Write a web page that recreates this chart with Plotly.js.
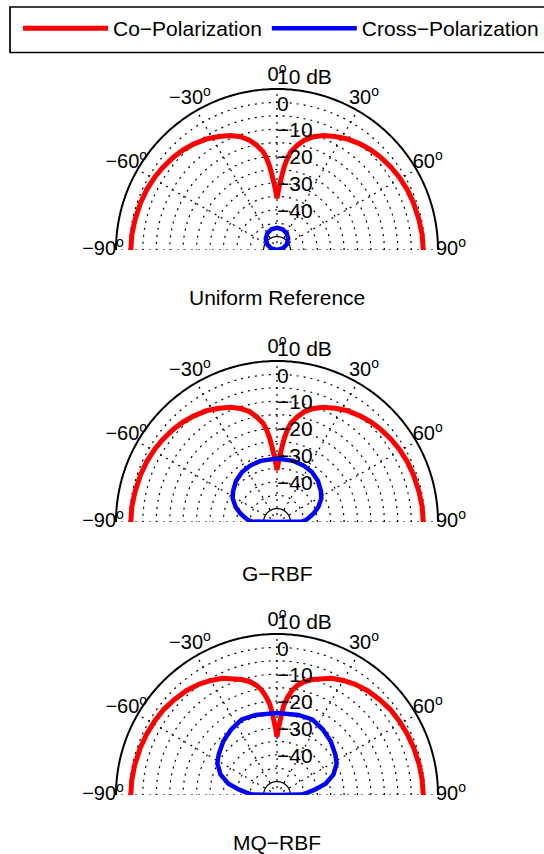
<!DOCTYPE html>
<html>
<head>
<meta charset="utf-8">
<script src="https://cdn.plot.ly/plotly-3.0.1.min.js"></script>
<style>html,body{margin:0;padding:0;background:#fff;}#chart{width:544px;height:854px;}</style>
</head>
<body>
<div id="chart"></div>
<script>
// ---------- data (dB versus angle in degrees, 0° = broadside/top) ----------
const panelTitles = ["Uniform Reference", "G\u2212RBF", "MQ\u2212RBF"];
const seriesNames = ["Co\u2212Polarization", "Cross\u2212Polarization"];

const coTheta1 = [-90,-84,-78,-71,-65,-59,-54,-48,-43,-38,-32,-27,-22,-18,-14,-11,-8,-6.5,-5,-3.8,-2.6,-1.3,0,
                  1.3,2.6,3.8,5,6.5,8,11,14,18,22,27,32,38,43,48,54,59,65,71,78,84,90];
const coUniform = [4.5,4.4,4.1,3.8,3.5,3.0,2.5,1.8,1.1,0.2,-1.1,-2.5,-4.0,-5.6,-7.8,-10.2,-13.0,-15.5,-18.8,-22.0,-25.1,-28.0,-30.7,
                   -28.0,-25.1,-22.0,-18.8,-15.5,-13.0,-10.2,-7.8,-5.6,-4.0,-2.5,-1.1,0.2,1.1,1.8,2.5,3.0,3.5,3.8,4.1,4.4,4.5];
const coGRBF    = [4.5,4.4,4.1,3.8,3.5,3.0,2.5,1.8,1.1,0.2,-1.0,-2.4,-3.9,-5.5,-7.6,-10.0,-12.8,-15.3,-18.6,-21.9,-25.0,-27.9,-30.6,
                   -27.9,-25.0,-21.9,-18.6,-15.3,-12.8,-10.0,-7.6,-5.5,-3.9,-2.4,-1.0,0.2,1.1,1.8,2.5,3.0,3.5,3.8,4.1,4.4,4.5];
const coTheta3 = [-90,-84,-78,-71,-65,-59,-53,-47,-41,-35,-30,-25,-20.6,-17,-13.4,-10.5,-8.3,-6.3,-4.4,-3.3,-2.3,-1.1,0,
                  1.1,2.3,3.3,4.4,6.3,8.3,10.5,13.4,17,20.6,25,30,35,41,47,53,59,65,71,78,84,90];
const coMQRBF   = [4.5,4.4,4.2,3.9,3.6,3.3,2.9,2.2,1.5,0.5,-0.7,-2.0,-3.8,-5.0,-6.6,-8.5,-10.5,-13.2,-16.3,-19.4,-22.6,-25.5,-28.3,
                   -25.5,-22.6,-19.4,-16.3,-13.2,-10.5,-8.5,-6.6,-5.0,-3.8,-2.0,-0.7,0.5,1.5,2.2,2.9,3.3,3.6,3.9,4.2,4.4,4.5];

const xTheta1 = [-90,-75,-60,-45,-30,-15,0,15,30,45,60,75,90];
const xUniform = [-50,-47.8,-45.8,-44.1,-42.8,-42.0,-41.7,-42.0,-42.8,-44.1,-45.8,-47.8,-50];
const xTheta23 = [-90,-89,-86,-82,-77,-70,-62,-55,-45,-35,-25,-15,0,15,25,35,45,55,62,70,77,82,86,89,90];
const xGRBF  = [-50,-40.7,-39.2,-37.9,-36.0,-33.6,-31.3,-30.0,-28.4,-27.3,-26.7,-26.4,-26.3,
                -26.4,-26.7,-27.3,-28.4,-30.0,-31.3,-33.6,-36.0,-37.9,-39.2,-40.7,-50];
const xMQRBF = [-50,-41.1,-38.8,-35.8,-31.4,-27.6,-24.8,-23.5,-21.7,-20.2,-18.9,-19.1,-19.4,
                -19.1,-18.9,-20.2,-21.7,-23.5,-24.8,-27.6,-31.4,-35.8,-38.8,-41.1,-50];

// ---------- axes / ticks ----------
const dbMin = -50, dbRim = 10, dbFrame = 16;     // centre, plotted rim, room for angle labels
const ringVals = [-40,-35,-30,-25,-20,-15,-10,-5,0,5];
const innerRing = -45;
const radialLabelVals = [10, 0, -10, -20, -30, -40];
const radialLabelText = ["10 dB", "0", "\u221210", "\u221220", "\u221230", "\u221240"];
const angTickVals = [-90, -60, -30, 0, 30, 60, 90];
const angTickText = ["\u221290<sup>o</sup>", "\u221260<sup>o</sup>", "\u221230<sup>o</sup>", "0<sup>o</sup>",
                     "30<sup>o</sup>", "60<sup>o</sup>", "90<sup>o</sup>"];
const angLabelR = 14.85;

const panels = [
  {coT: coTheta1, co: coUniform, xT: xTheta1, x: xUniform},
  {coT: coTheta1, co: coGRBF, xT: xTheta23, x: xGRBF},
  {coT: coTheta3, co: coMQRBF, xT: xTheta23, x: xMQRBF}
];

// ---------- layout geometry ----------
const W = 544, H = 854;
const FONT = "'Liberation Sans', Arial, Helvetica, sans-serif";
const cx = 277, Rrim = 161;
const Rframe = Rrim * (dbFrame - dbMin) / (dbRim - dbMin);
const centersY = [250, 522, 795];
const titleY = [298, 573, 842];
const DOTS = '2px,5px';

const traces = [];
const layout = {
  width: W, height: H,
  margin: {l: 0, r: 0, t: 0, b: 0},
  paper_bgcolor: 'white',
  font: {family: FONT, size: 21, color: '#000'},
  showlegend: true,
  legend: {
    orientation: 'h', x: 20 / W, xanchor: 'left', y: 1 - 8 / H, yanchor: 'top',
    borderwidth: 0, bgcolor: 'rgba(0,0,0,0)',
    font: {family: FONT, size: 21, color: '#000'}, itemwidth: 85
  },
  shapes: [{
    type: 'rect', xref: 'paper', yref: 'paper', x0: 10 / W, x1: 1.05, y0: 1 - 52.5 / H, y1: 1 - 7 / H,
    line: {color: '#000', width: 1.7}, fillcolor: 'rgba(0,0,0,0)', layer: 'below'
  }],
  annotations: []
};

const ringTheta = [];
for (let t = -90; t <= 90; t += 1) ringTheta.push(t);

panels.forEach((p, i) => {
  const key = i === 0 ? 'polar' : 'polar' + (i + 1);
  const sub = key;
  const cy = centersY[i];
  layout[key] = {
    domain: {x: [(cx - Rframe) / W, (cx + Rframe) / W], y: [1 - cy / H, 1 - (cy - Rframe) / H]},
    sector: [0, 180],
    bgcolor: 'rgba(0,0,0,0)',
    radialaxis: {
      range: [dbMin, dbFrame], tickmode: 'array', tickvals: ringVals, showticklabels: false, ticks: '',
      showgrid: true, gridcolor: '#000', gridwidth: 1.2, griddash: DOTS, showline: false
    },
    angularaxis: {
      rotation: 90, direction: 'clockwise', tickmode: 'array', tickvals: angTickVals,
      showticklabels: false, showgrid: false, showline: false, ticks: ''
    }
  };
  // dotted spokes (including the ±90° baseline)
  angTickVals.forEach(t => {
    traces.push({
      type: 'scatterpolar', subplot: sub, mode: 'lines', r: [dbMin, dbRim], theta: [t, t],
      line: {color: '#000', width: 1.2, dash: DOTS}, showlegend: false, hoverinfo: 'skip'
    });
  });
  // outer solid rim
  traces.push({
    type: 'scatterpolar', subplot: sub, mode: 'lines', r: ringTheta.map(() => dbRim), theta: ringTheta,
    line: {color: '#000', width: 2}, showlegend: false, hoverinfo: 'skip'
  });
  // inner solid ring
  traces.push({
    type: 'scatterpolar', subplot: sub, mode: 'lines', r: ringTheta.map(() => innerRing), theta: ringTheta,
    line: {color: '#000', width: 1.2}, showlegend: false, hoverinfo: 'skip'
  });
  // data
  traces.push({
    type: 'scatterpolar', subplot: sub, mode: 'lines', r: p.co, theta: p.coT,
    name: seriesNames[0], legendgroup: 'co', showlegend: i === 0,
    line: {color: '#ff0000', width: 5}
  });
  traces.push({
    type: 'scatterpolar', subplot: sub, mode: 'lines', r: p.x, theta: p.xT,
    name: seriesNames[1], legendgroup: 'x', showlegend: i === 0,
    line: {color: '#0000ff', width: 4.5}
  });
  // radial labels
  traces.push({
    type: 'scatterpolar', subplot: sub, mode: 'text', r: radialLabelVals, theta: radialLabelVals.map(() => 0),
    text: radialLabelText, textposition: 'top right', cliponaxis: false,
    textfont: {family: FONT, size: 21, color: '#000'}, showlegend: false, hoverinfo: 'skip'
  });
  // angle labels centred on a circle just outside the rim
  traces.push({
    type: 'scatterpolar', subplot: sub, mode: 'text', r: angTickVals.map(() => angLabelR), theta: angTickVals,
    text: angTickText, textposition: 'middle center', cliponaxis: false,
    textfont: {family: FONT, size: 20, color: '#000'}, showlegend: false, hoverinfo: 'skip'
  });
  layout.annotations.push({
    xref: 'paper', yref: 'paper', x: cx / W, y: 1 - titleY[i] / H, xanchor: 'center', yanchor: 'middle',
    text: panelTitles[i], showarrow: false, font: {family: FONT, size: 21, color: '#000'}
  });
});

Plotly.newPlot('chart', traces, layout, {displayModeBar: false, staticPlot: true});
</script>
</body>
</html>
